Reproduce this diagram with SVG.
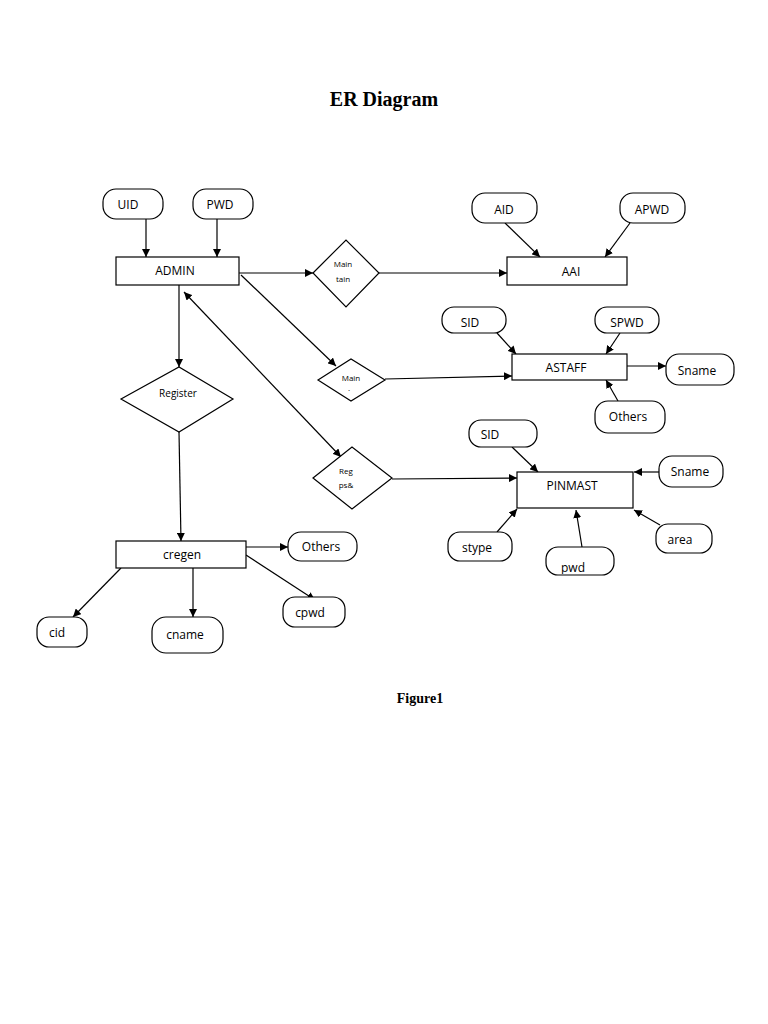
<svg xmlns="http://www.w3.org/2000/svg" width="768" height="1024" viewBox="0 0 768 1024">
<style>
.box{fill:#fff;stroke:#000;stroke-width:1.2}
.t{font-family:"Open Sans","Liberation Sans",sans-serif;font-size:12px;text-anchor:middle;fill:#000}
.s{font-family:"Open Sans","Liberation Sans",sans-serif;font-size:8px;text-anchor:middle;fill:#000}
.c line{stroke:#000;stroke-width:1.2;marker-end:url(#a)}
</style>
<defs>
<marker id="a" viewBox="0 0 10 10" refX="10" refY="5" markerWidth="8" markerHeight="8" markerUnits="userSpaceOnUse" orient="auto"><path d="M0,0L10,5L0,10z" fill="#000"/></marker>
<marker id="b" viewBox="0 0 10 10" refX="0" refY="5" markerWidth="8" markerHeight="8" markerUnits="userSpaceOnUse" orient="auto"><path d="M10,0L0,5L10,10z" fill="#000"/></marker>
<clipPath id="pc"><rect x="546" y="547" width="68" height="27"/></clipPath>
</defs>
<rect width="768" height="1024" fill="#fff"/>
<text x="384" y="106" font-family="Liberation Serif,serif" font-weight="bold" font-size="20" text-anchor="middle">ER Diagram</text>
<text x="420" y="703" font-family="Liberation Serif,serif" font-weight="bold" font-size="14" text-anchor="middle">Figure1</text>

<g class="c">
<line x1="146" y1="219" x2="146" y2="257"/>
<line x1="217" y1="219" x2="217" y2="257"/>
<line x1="239" y1="273" x2="313" y2="273"/>
<line x1="379" y1="273" x2="507" y2="273"/>
<line x1="505" y1="223" x2="540" y2="257"/>
<line x1="630" y1="223" x2="605" y2="257"/>
<line x1="241" y1="275" x2="336" y2="366"/>
<line x1="385" y1="379" x2="512" y2="376"/>
<line x1="497" y1="333" x2="516" y2="354"/>
<line x1="620" y1="333" x2="606" y2="354"/>
<line x1="627" y1="366" x2="666" y2="366"/>
<line x1="618" y1="401" x2="606" y2="380"/>
<line x1="184" y1="292" x2="341" y2="457" style="marker-start:url(#b)"/>
<line x1="392" y1="479" x2="517" y2="478"/>
<line x1="512" y1="447" x2="538" y2="472"/>
<line x1="659" y1="472" x2="634" y2="472"/>
<line x1="660" y1="525" x2="634" y2="510"/>
<line x1="582" y1="547" x2="576" y2="510"/>
<line x1="497" y1="532" x2="517" y2="509"/>
<line x1="179" y1="285" x2="179" y2="367"/>
<line x1="179" y1="432" x2="181" y2="541"/>
<line x1="246" y1="547" x2="288" y2="547"/>
<line x1="246" y1="555" x2="315" y2="600"/>
<line x1="193" y1="568" x2="193" y2="617"/>
<line x1="121" y1="568" x2="73" y2="617"/>
</g>

<g id="uid"><rect class="box" x="103" y="189" width="60" height="30" rx="13"/><text class="t" x="128" y="209">UID</text></g>
<g id="pwd"><rect class="box" x="193" y="189" width="60" height="30" rx="13"/><text class="t" x="220" y="209">PWD</text></g>
<g id="admin"><rect class="box" x="116" y="257" width="123" height="28"/><text class="t" x="175" y="275">ADMIN</text></g>
<g id="maintain"><polygon class="box" points="313,273 346,240 379,273 346,307"/><text class="s" x="343" y="267">Main</text><text class="s" x="343" y="282">tain</text></g>
<g id="aai"><rect class="box" x="507" y="257" width="120" height="28"/><text class="t" x="571" y="276">AAI</text></g>
<g id="aid"><rect class="box" x="472" y="193" width="65" height="30" rx="13"/><text class="t" x="504" y="214">AID</text></g>
<g id="apwd"><rect class="box" x="620" y="193" width="65" height="30" rx="13"/><text class="t" x="652" y="214">APWD</text></g>
<g id="main"><polygon class="box" points="318,380 351,359 385,380 351,401"/><text class="s" x="351" y="381">Main</text><text class="s" x="349" y="391">.</text></g>
<g id="astaff"><rect class="box" x="512" y="354" width="115" height="26"/><text class="t" x="566" y="372">ASTAFF</text></g>
<g id="sid1"><rect class="box" x="442" y="307" width="64" height="26" rx="12"/><text class="t" x="470" y="327">SID</text></g>
<g id="spwd"><rect class="box" x="595" y="307" width="64" height="26" rx="12"/><text class="t" x="627" y="327">SPWD</text></g>
<g id="sname1"><rect class="box" x="666" y="354" width="68" height="31" rx="13"/><text class="t" x="697" y="375">Sname</text></g>
<g id="others1"><rect class="box" x="595" y="401" width="70" height="32" rx="13"/><text class="t" x="628" y="421">Others</text></g>
<g id="regps"><polygon class="box" points="313,478 352,447 392,478 352,509"/><text class="s" x="346" y="474">Reg</text><text class="s" x="346" y="488">ps&amp;</text></g>
<g id="pinmast"><rect class="box" x="517" y="472" width="116" height="36"/><text class="t" x="572" y="490">PINMAST</text></g>
<g id="sid2"><rect class="box" x="469" y="420" width="68" height="27" rx="12"/><text class="t" x="490" y="439">SID</text></g>
<g id="sname2"><rect class="box" x="659" y="456" width="64" height="31" rx="13"/><text class="t" x="690" y="476">Sname</text></g>
<g id="area"><rect class="box" x="656" y="524" width="56" height="29" rx="12"/><text class="t" x="680" y="544">area</text></g>
<g id="pwd2"><rect class="box" x="546" y="547" width="68" height="28" rx="12"/><text class="t" x="573" y="572" clip-path="url(#pc)">pwd</text></g>
<g id="stype"><rect class="box" x="448" y="532" width="64" height="29" rx="12"/><text class="t" x="477" y="552">stype</text></g>
<g id="register"><polygon class="box" points="121,399 179,367 233,399 179,432"/><text class="s" x="178" y="397" style="font-size:10px">Register</text></g>
<g id="cregen"><rect class="box" x="116" y="541" width="130" height="27"/><text class="t" x="182" y="559">cregen</text></g>
<g id="others2"><rect class="box" x="288" y="532" width="69" height="29" rx="13"/><text class="t" x="321" y="551">Others</text></g>
<g id="cpwd"><rect class="box" x="283" y="597" width="62" height="30" rx="12"/><text class="t" x="310" y="617">cpwd</text></g>
<g id="cname"><rect class="box" x="152" y="617" width="71" height="36" rx="14"/><text class="t" x="185" y="639">cname</text></g>
<g id="cid"><rect class="box" x="37" y="617" width="50" height="30" rx="12"/><text class="t" x="57" y="637">cid</text></g>
</svg>
